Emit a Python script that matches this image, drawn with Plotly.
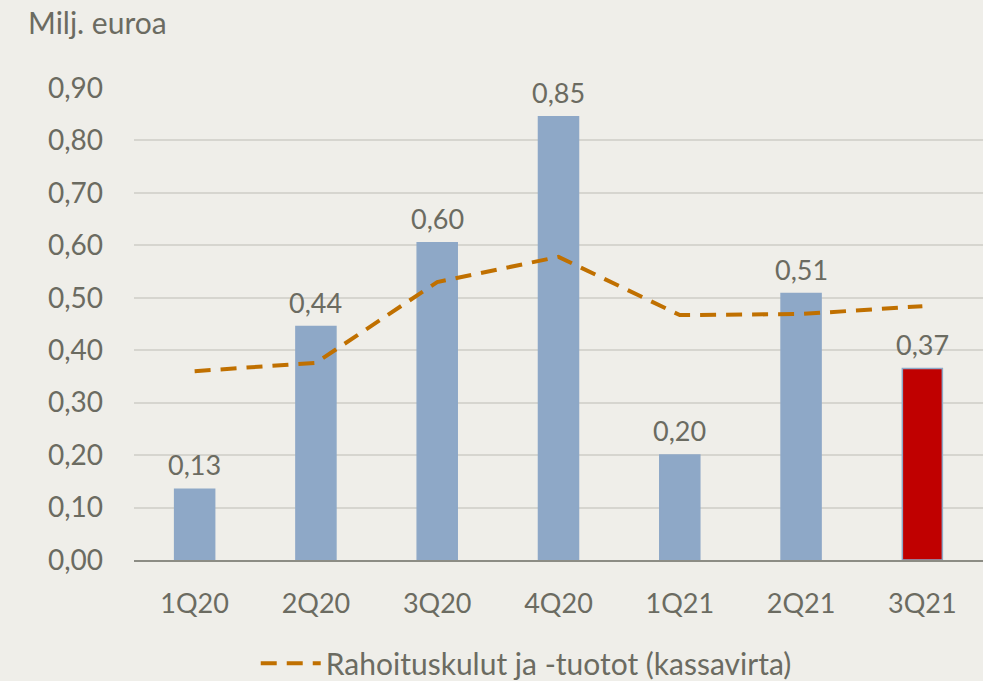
import plotly.graph_objects as go

categories = ["1Q20", "2Q20", "3Q20", "4Q20", "1Q21", "2Q21", "3Q21"]
bar_values = [0.135, 0.445, 0.605, 0.845, 0.20, 0.508, 0.365]
bar_labels = ["0,13", "0,44", "0,60", "0,85", "0,20", "0,51", "0,37"]
line_values = [0.360, 0.376, 0.530, 0.578, 0.467, 0.469, 0.484]
line_name = "Rahoituskulut ja -tuotot (kassavirta)"
y_unit = "Milj. euroa"

BG = "#EFEEE9"
TXT = "#6B6B61"
bar_colors = ["#8EA8C7"] * 6 + ["#C00000"]

fig = go.Figure()
fig.add_trace(go.Bar(
    x=categories, y=bar_values,
    marker=dict(color=bar_colors, line=dict(color="#8EA8C7", width=1.5)),
    width=0.33, showlegend=False,
))
fig.add_trace(go.Scatter(
    x=categories, y=line_values, mode="lines", name=line_name,
    line=dict(color="#C07000", width=4, dash="16px,10px"),
))

annotations = [dict(x=c, y=v, text=t, xref="x", yref="y", showarrow=False,
                    yanchor="bottom", yshift=6, font=dict(size=27, color=TXT))
               for c, v, t in zip(categories, bar_values, bar_labels)]
annotations.append(dict(text=y_unit, xref="paper", yref="paper", x=-0.127, y=1.14,
                        xanchor="left", yanchor="middle", showarrow=False,
                        font=dict(size=30, color=TXT)))

fig.update_layout(
    width=983, height=681,
    paper_bgcolor=BG, plot_bgcolor=BG,
    margin=dict(l=134, r=0, t=88, b=121, autoexpand=False),
    separators=", ",
    font=dict(family="Lato", color=TXT, size=26),
    legend=dict(orientation="h", x=0.462, xanchor="center", yref="container",
                y=0.026, yanchor="middle",
                font=dict(size=30, color=TXT), bgcolor="rgba(0,0,0,0)", itemwidth=60),
    xaxis=dict(showline=True, linecolor="#8C8C84", linewidth=1.5, ticks="",
               ticklabelstandoff=19, tickfont=dict(size=27, color=TXT)),
    yaxis=dict(range=[0, 0.9], dtick=0.1, tickformat=".2f", showgrid=True,
               gridcolor="#D6D5CF", gridwidth=1.5, zeroline=False,
               ticklabelstandoff=30, tickfont=dict(size=28, color=TXT)),
    annotations=annotations,
)
fig.write_html("out.html", config={"displayModeBar": False},
               post_script="document.body.style.margin='0';")
